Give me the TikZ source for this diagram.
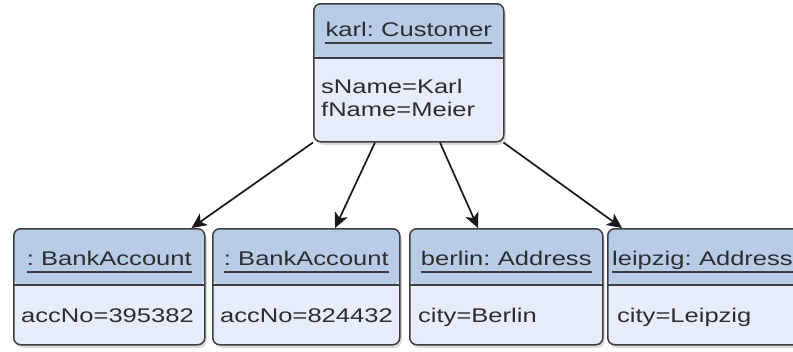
\documentclass[tikz,border=0pt]{standalone}
\usepackage{fontspec}
\setmainfont{Liberation Sans}[FakeStretch=1.29, WordSpace=0.7]
\usetikzlibrary{arrows.meta,shadows}
\definecolor{headblue}{RGB}{184,204,230}
\definecolor{bodyblue}{RGB}{230,237,248}
\definecolor{boxline}{RGB}{62,62,66}
\definecolor{textgray}{RGB}{45,45,48}
\tikzset{
	objbox/.style={draw=boxline, line width=1.5pt, rounded corners=7pt, fill=bodyblue,
		anchor=north west, inner sep=0pt,
		drop shadow={shadow xshift=2pt, shadow yshift=-3pt, opacity=0.3}},
	header/.style={path picture={
		\fill[headblue] (path picture bounding box.north west) rectangle ([yshift=-#1]path picture bounding box.north east);
		\draw[boxline, line width=1.5pt] ([yshift=-#1]path picture bounding box.north west) -- ([yshift=-#1]path picture bounding box.north east);}},
	objname/.style={anchor=base, inner sep=0pt, text=textgray, font=\fontsize{19.8}{23}\selectfont},
	attr/.style={anchor=base west, inner sep=0pt, text=textgray, font=\fontsize{19.8}{23}\selectfont},
	uline/.style={line width=2pt, boxline},
	link/.style={line width=1.7pt, black!90, -{Stealth[length=15pt,width=14pt,inset=4pt]}}
}

\begin{document}
\begin{tikzpicture}[x=1pt, y=-1pt]
	%%%%% START %%%%%
	\clip (0,0) rectangle (793,351);
	
	\node[objbox, header=54pt, minimum width=190pt, minimum height=138pt] (karl) at (313,3) {};
	\node[objname] (karlname) at ([yshift=-33pt]karl.north) {karl: Customer};
	\node[attr] (karlsname) at ([xshift=8pt, yshift=-90pt]karl.north west) {sName=Karl};
	\node[attr] (karlfname) at ([xshift=8pt, yshift=-113pt]karl.north west) {fName=Meier};
	
	\node[objbox, header=56pt, minimum width=191pt, minimum height=116pt] (acc1) at (13,228) {};
	\node[objname] (acc1name) at ([yshift=-37pt]acc1.north) {: BankAccount};
	\node[attr] (acc1no) at ([xshift=8pt, yshift=-94pt]acc1.north west) {accNo=395382};
	
	\node[objbox, header=56pt, minimum width=187pt, minimum height=116pt] (acc2) at (212,228) {};
	\node[objname] (acc2name) at ([yshift=-37pt]acc2.north) {: BankAccount};
	\node[attr] (acc2no) at ([xshift=8pt, yshift=-94pt]acc2.north west) {accNo=824432};
	
	\node[objbox, header=56pt, minimum width=193pt, minimum height=116pt] (berlin) at (409,228) {};
	\node[objname] (berlinname) at ([yshift=-37pt]berlin.north) {berlin: Address};
	\node[attr] (berlincity) at ([xshift=9pt, yshift=-94pt]berlin.north west) {city=Berlin};
	
	\node[objbox, header=56pt, minimum width=193pt, minimum height=116pt] (leipzig) at (607,228) {};
	\node[objname, anchor=base west] (leipzigname) at ([xshift=5pt, yshift=-37pt]leipzig.north west) {leipzig: Address};
	\node[attr] (leipzigcity) at ([xshift=10pt, yshift=-94pt]leipzig.north west) {city=Leipzig};
	
	% underlined object names
	\foreach \n in {karlname, acc1name, acc2name, berlinname, leipzigname}
		\draw[uline] ([yshift=-7pt]\n.base west) -- ([yshift=-7pt]\n.base east);
	
	% links
	\draw[link] (karl.south west) -- ([xshift=-14pt]acc1.north east);
	\draw[link] ([xshift=62pt]karl.south west) -- ([xshift=123pt]acc2.north west);
	\draw[link] ([xshift=127pt]karl.south west) -- ([xshift=69pt]berlin.north west);
	\draw[link] ([xshift=-1pt]karl.south east) -- ([xshift=15pt]leipzig.north west);
	
	%%%%% END %%%%%
\end{tikzpicture}
\end{document}
